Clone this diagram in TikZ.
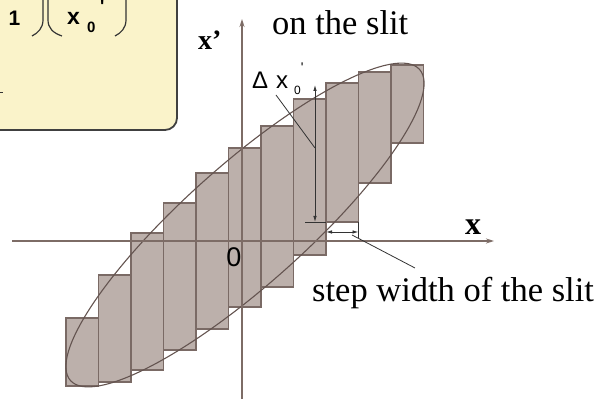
\documentclass[tikz,border=0pt]{standalone}
\usepackage{fontspec}
\setmainfont{Liberation Serif}
\newfontfamily\sansfont{Liberation Sans}
\usetikzlibrary{arrows.meta}
\definecolor{barfill}{RGB}{188,176,171}
\definecolor{barline}{RGB}{122,106,101}
\definecolor{axisline}{RGB}{125,108,102}
\definecolor{ellline}{RGB}{100,84,80}
\definecolor{boxfill}{RGB}{250,243,202}
\begin{document}
\begin{tikzpicture}[
  x=1pt, y=1pt,
  slitbar/.style={fill=barfill, draw=barline, line width=1.2pt},
  axis/.style={draw=axisline, line width=1.3pt, -{Stealth[length=8pt,width=5pt]}},
  dim/.style={draw=black!80, line width=0.8pt},
  dimarrow/.style={dim, {Latex[length=6pt,width=3.5pt]}-{Latex[length=6pt,width=3.5pt]}},
  lbl/.style={inner sep=0pt, font=\fontsize{34.5}{40}\selectfont},
  paren/.style={draw=black!80, line width=1.2pt}
]
  \useasboundingbox (0,0) rectangle (606,403);
  \clip (0,0) rectangle (606,403);
  % formula box, cut off at the page edge
  \draw[draw=black!75, line width=1.8pt, fill=boxfill, rounded corners=12pt]
    (-30,273) rectangle (177,440);
  \node[inner sep=0pt, anchor=base, font=\sansfont\bfseries\fontsize{21}{21}\selectfont] (one) at (14.5,377) {1};
  \node[inner sep=0pt, anchor=base west, font=\sansfont\bfseries\fontsize{23}{23}\selectfont] (xnull) at (67,378) {x};
  \node[inner sep=0pt, anchor=base west, font=\sansfont\bfseries\fontsize{15}{15}\selectfont] (xsub) at (87,370) {0};
  \node[inner sep=0pt, anchor=base west, font=\sansfont\bfseries\fontsize{18}{18}\selectfont] (xprime) at (100,390) {'};
  \draw[paren] (43,403) -- (43,383) .. controls (43,375) and (38,370) .. (32,367);
  \draw[paren] (48,403) -- (48,383) .. controls (48,375) and (53,370) .. (62,367);
  \draw[paren] (126,403) -- (126,383) .. controls (126,375) and (121,370) .. (115,367);
  \draw[black!80, line width=1pt] (0,310) -- (2.5,310);
  % slit steps
  \foreach \i/\t/\b in {0/85/17, 1/128/21, 2/170/33, 3/200/53, 4/230/74, 5/255/96,
                        6/277/116, 7/304/148, 8/320/181, 9/331/220, 10/338/260}
    \draw[slitbar] ({66+32.5*\i},\b) rectangle ({98.5+32.5*\i},\t);
  \draw[ellline, line width=1.1pt, rotate around={41.7:(245,178)}]
    (245,178) ellipse [x radius=233.8, y radius=60.1];
  % axes
  \coordinate (xs) at (12,162);
  \coordinate (xe) at (494,162);
  \coordinate (ys) at (242,4);
  \coordinate (ye) at (242,384);
  \draw[axis] (xs) -- (xe);
  \draw[axis] (ys) -- (ye);
  \node[inner sep=0pt, anchor=base, font=\bfseries\fontsize{32}{32}\selectfont] (xlab) at (473,168) {x};
  \node[inner sep=0pt, anchor=base west, font=\bfseries\fontsize{28}{28}\selectfont] (xplab) at (198,353) {x'};
  \node[inner sep=0pt, font=\sansfont\fontsize{27}{27}\selectfont] (orig) at (234,146) {0};
  % slit height
  \coordinate (dlo) at (315,181);
  \coordinate (dhi) at (315,318);
  \draw[dim] (305,181) -- (326,181);
  \draw[dimarrow] (dlo) -- (dhi);
  \node[inner sep=0pt, anchor=base west, font=\sansfont\fontsize{24}{24}\selectfont] (dlab) at (252,314)
    {Δ\hspace{8pt}x\hspace{6pt}\raisebox{-6pt}{\fontsize{12}{12}\selectfont 0}\raisebox{16pt}{\fontsize{14}{14}\selectfont '}};
  \coordinate (dlead) at (276,308);
  \coordinate (dmid) at (315,255);
  \draw[dim] (dlead) -- (dmid);
  % step width
  \coordinate (slo) at (326,171);
  \coordinate (shi) at (358.5,171);
  \draw[dim] (358.5,181) -- (358.5,165);
  \draw[dimarrow] (slo) -- (shi);
  \node[lbl, anchor=base west] (steplab) at (312,101) {step width of the slit};
  \coordinate (slead) at (352,168);
  \coordinate (send) at (415,135);
  \draw[dim] (slead) -- (send);
  \node[lbl, anchor=base west] (slitlab) at (272,368) {on the slit};
\end{tikzpicture}
\end{document}
